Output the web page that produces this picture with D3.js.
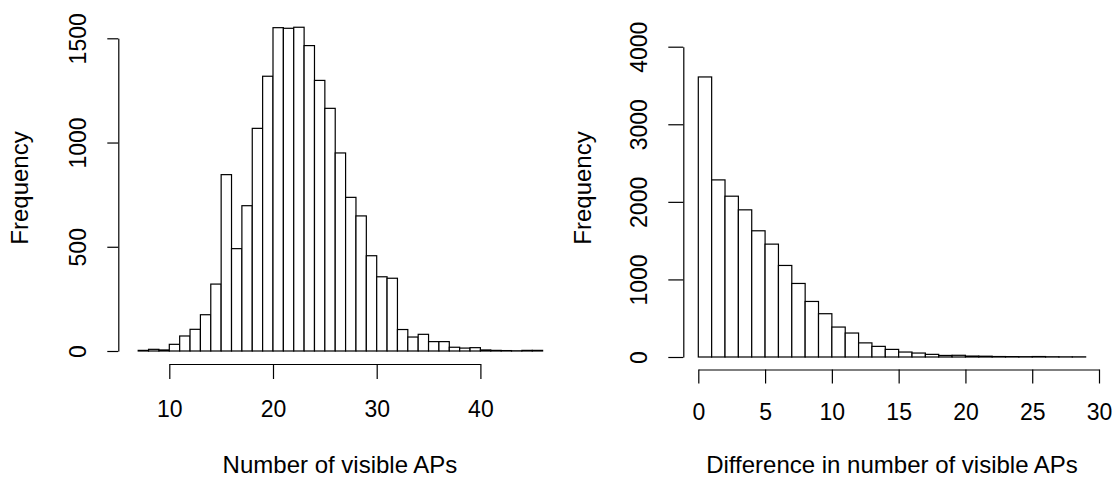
<!DOCTYPE html>
<html>
<head>
<meta charset="utf-8">
<title>Visible APs histograms</title>
<script src="https://d3js.org/d3.v7.min.js"></script>
<style>
    html, body {
        margin: 0;
        padding: 0;
        background: white;
    }
    svg text {
        font-family: "Liberation Sans", Arial, Helvetica, sans-serif;
        font-size: 23px;
        fill: black;
    }
    svg text.title {
        font-size: 24px;
    }
</style>
</head>
<body>
<div id="graph"></div>

<script>
    // left panel: number of visible APs, bins of width 1 from 7 to 46
    var visibleBreaks = [7, 8, 9, 10, 11, 12, 13, 14, 15, 16, 17, 18, 19, 20, 21, 22, 23, 24, 25, 26,
        27, 28, 29, 30, 31, 32, 33, 34, 35, 36, 37, 38, 39, 40, 41, 42, 43, 44, 45, 46];
    var visibleCounts = [3, 8, 5, 32, 72, 104, 174, 321, 846, 491, 697, 1068, 1318, 1551, 1548, 1553, 1465, 1298, 1164,
        950, 737, 648, 457, 356, 349, 103, 67, 80, 45, 45, 18, 14, 16, 5, 3, 2, 1, 3, 3];
    var visibleTicksX = [10, 20, 30, 40];
    var visibleTicksY = [0, 500, 1000, 1500];

    // right panel: difference in number of visible APs, bins 0 to 29
    var diffBreaks = [0, 1, 2, 3, 4, 5, 6, 7, 8, 9, 10, 11, 12, 13, 14, 15, 16, 17, 18, 19, 20,
        21, 22, 23, 24, 25, 26, 27, 28, 29];
    var diffCounts = [3610, 2283, 2073, 1897, 1627, 1455, 1180, 948, 716, 558, 386, 309, 182, 137, 98,
        64, 51, 34, 20, 22, 12, 10, 6, 5, 4, 6, 3, 2, 2];
    var diffTicksX = [0, 5, 10, 15, 20, 25, 30];
    var diffTicksY = [0, 1000, 2000, 3000, 4000];

    var svg = d3.select("#graph")
        .append("svg")
            .attr("width", 1114)
            .attr("height", 478);

    function bins(breaks, counts) {
        return counts.map(function(c, i) { return {x0: breaks[i], x1: breaks[i + 1], n: c}; });
    }

    function drawPanel(p) {
        var x = d3.scaleLinear().domain(p.xDomain).range(p.xRange);
        var y = d3.scaleLinear().domain(p.yDomain).range(p.yRange);

        // bars
        svg.append("g")
            .selectAll("rect")
            .data(bins(p.breaks, p.counts))
            .enter()
            .append("rect")
                .attr("x", function(d) { return x(d.x0); })
                .attr("y", function(d) { return y(d.n); })
                .attr("width", function(d) { return x(d.x1) - x(d.x0); })
                .attr("height", function(d) { return y(0) - y(d.n); })
                .attr("fill", "white")
                .attr("stroke", "black")
                .attr("stroke-width", 1.2);

        // x axis
        var xg = svg.append("g")
            .attr("transform", "translate(0," + p.xAxisY + ")")
            .call(d3.axisBottom(x).tickValues(p.ticksX).tickFormat(d3.format("d"))
                .tickSize(p.xTick).tickSizeOuter(0));
        xg.select(".domain").attr("stroke-width", 1.2);
        xg.selectAll(".tick line").attr("stroke-width", 1.2);
        xg.selectAll(".tick text")
            .attr("y", p.xLabelY)
            .attr("dy", 0)
            .attr("font-size", null)
            .attr("font-family", null);

        // y axis, labels turned like R does
        var yg = svg.append("g")
            .attr("transform", "translate(" + p.yAxisX + ",0)")
            .call(d3.axisLeft(y).tickValues(p.ticksY).tickFormat(d3.format("d"))
                .tickSize(p.yTick).tickSizeOuter(0));
        yg.select(".domain").attr("stroke-width", 1.2);
        yg.selectAll(".tick line").attr("stroke-width", 1.2);
        yg.selectAll(".tick text")
            .attr("x", 0)
            .attr("dy", 0)
            .attr("text-anchor", "middle")
            .attr("transform", "translate(" + p.yLabelX + ",0) rotate(-90)")
            .attr("font-size", null)
            .attr("font-family", null);

        // titles
        svg.append("text")
            .attr("class", "title")
            .attr("x", p.xTitleX)
            .attr("y", 473)
            .attr("text-anchor", "middle")
            .text(p.xTitle);
        svg.append("text")
            .attr("class", "title")
            .attr("transform", "translate(" + p.yTitleX + ",188) rotate(-90)")
            .attr("text-anchor", "middle")
            .text("Frequency");
    }

    drawPanel({
        breaks: visibleBreaks, counts: visibleCounts,
        ticksX: visibleTicksX, ticksY: visibleTicksY,
        xDomain: [10, 40], xRange: [169.3, 480.4],
        yDomain: [0, 1500], yRange: [351, 38.3],
        xAxisY: 364, xTick: 15, xLabelY: 53,
        yAxisX: 118.3, yTick: 11, yLabelX: -32,
        xTitle: "Number of visible APs", xTitleX: 340, yTitleX: 28
    });

    drawPanel({
        breaks: diffBreaks, counts: diffCounts,
        ticksX: diffTicksX, ticksY: diffTicksY,
        xDomain: [0, 30], xRange: [698.3, 1099],
        yDomain: [0, 4000], yRange: [357, 46.7],
        xAxisY: 369.5, xTick: 14, xLabelY: 50,
        yAxisX: 683.3, yTick: 15, yLabelX: -36,
        xTitle: "Difference in number of visible APs", xTitleX: 892, yTitleX: 591
    });
</script>
</body>
</html>
